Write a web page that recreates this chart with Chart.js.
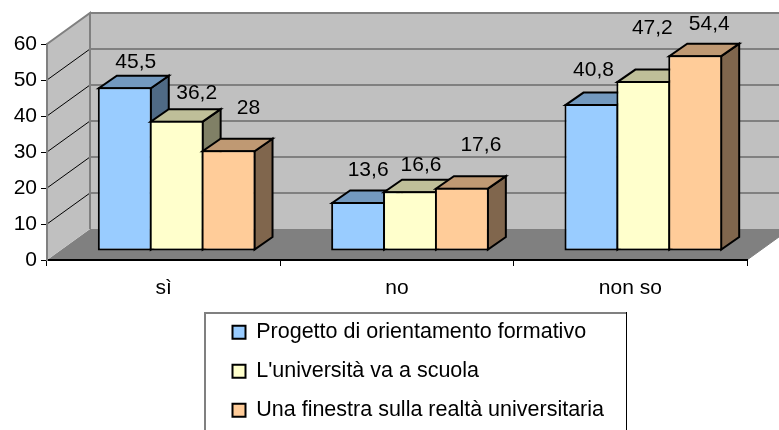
<!DOCTYPE html>
<html><head><meta charset="utf-8">
<style>html,body{margin:0;padding:0;background:#fff}canvas{display:block}</style>
<script src="https://cdn.jsdelivr.net/npm/chart.js@4"></script>
</head><body>
<canvas id="c" width="779" height="430"></canvas>
<script>
const categories = ['sì', 'no', 'non so'];
const seriesNames = ['Progetto di orientamento formativo', "L'università va a scuola", 'Una finestra sulla realtà universitaria'];
const progetto = [45.5, 13.6, 40.8];
const universita = [36.2, 16.6, 47.2];
const finestra = [28, 17.6, 54.4];
const yTicks = [0, 10, 20, 30, 40, 50, 60];

const frontColors = ['#99CCFF', '#FFFFCC', '#FFCC99'];
const topColors = ['#7399BF', '#BFBF99', '#BF9973'];
const sideColors = ['#4F6A85', '#808066', '#80664D'];
const labelOffsets = [
  [[11, -25], [10, -32], [2, -34]],
  [[20, -27], [11, -26], [9, -53]],
  [[20, -42], [19, -42], [14, -31]]
];
const FONT = '"Liberation Sans", Arial, sans-serif';
const FONT_SIZE = 21;
const LEGEND_FONT_SIZE = 21.5;
const WALL = {dx: 43, dy: -31};
const BAR_SHIFT = {dx: 13, dy: -9};
const BAR_DEPTH = {dx: 18, dy: -12.5};

function poly(ctx, pts, fill, stroke, lw) {
  ctx.beginPath();
  pts.forEach((p, i) => i ? ctx.lineTo(p[0], p[1]) : ctx.moveTo(p[0], p[1]));
  ctx.closePath();
  if (fill) { ctx.fillStyle = fill; ctx.fill(); }
  if (stroke) { ctx.strokeStyle = stroke; ctx.lineWidth = lw; ctx.lineJoin = 'miter'; ctx.stroke(); }
}
function seg(ctx, x1, y1, x2, y2, color, lw) {
  ctx.beginPath(); ctx.moveTo(x1, y1); ctx.lineTo(x2, y2);
  ctx.strokeStyle = color; ctx.lineWidth = lw; ctx.stroke();
}

const scene3d = {
  id: 'scene3d',
  beforeLayout(chart) { Chart.layouts.removeBox(chart, chart.legend); },
  afterLayout(chart) {
    const lg = chart.legend;
    lg.update(500, 200, {left: 0, top: 0, right: 0, bottom: 0});
    const w = lg.width, h = lg.height;
    lg.left = 215; lg.top = 304; lg.right = lg.left + w; lg.bottom = lg.top + h;
    lg.width = w; lg.height = h;
  },
  beforeDraw(chart) {
    const {ctx, chartArea: a, scales: {y}} = chart;
    const {dx, dy} = WALL;
    const x0 = a.left, x1 = a.right, yb = a.bottom, yt = a.top;
    ctx.save();
    poly(ctx, [[x0 + dx, yt + dy], [x1 + dx, yt + dy], [x1 + dx, yb + dy], [x0 + dx, yb + dy]], '#C0C0C0');
    poly(ctx, [[x0, yb], [x1, yb], [x1 + dx, yb + dy], [x0 + dx, yb + dy]], '#808080');
    poly(ctx, [[x0, yt], [x0 + dx, yt + dy], [x0 + dx, yb + dy], [x0, yb]], '#C0C0C0');
    yTicks.forEach(v => {
      const p = y.getPixelForValue(v);
      if (v > 0) seg(ctx, x0 + dx, p + dy, x1 + dx, p + dy, '#808080', 2);
      if (v > 0 && v < 60) seg(ctx, x0, p, x0 + dx, p + dy, '#000', 1);
    });
    ctx.beginPath(); ctx.moveTo(x0, yt); ctx.lineTo(x0 + dx, yt + dy); ctx.lineTo(x0 + dx, yb + dy);
    ctx.strokeStyle = '#808080'; ctx.lineWidth = 2; ctx.stroke();
    seg(ctx, x1, yb, x1 + dx, yb + dy, '#808080', 1);
    ctx.restore();
  },
  beforeDatasetsDraw(chart) {
    const ctx = chart.ctx;
    const {dx, dy} = BAR_DEPTH;
    ctx.save();
    ctx.translate(BAR_SHIFT.dx, BAR_SHIFT.dy);
    chart.data.datasets.forEach((ds, di) => {
      chart.getDatasetMeta(di).data.forEach(bar => {
        const l = bar.x - bar.width / 2, r = bar.x + bar.width / 2, t = bar.y + 1, b = bar.base - 1;
        poly(ctx, [[r - 1, t], [r - 1 + dx, t + dy], [r - 1 + dx, b + dy], [r - 1, b]], sideColors[di], '#000', 2);
        poly(ctx, [[l + 1, t], [r - 1, t], [r - 1 + dx, t + dy], [l + 1 + dx, t + dy]], topColors[di], '#000', 2);
        bar.draw(ctx);
      });
    });
    ctx.fillStyle = '#000';
    ctx.font = FONT_SIZE + 'px ' + FONT;
    ctx.textAlign = 'center'; ctx.textBaseline = 'middle';
    chart.data.datasets.forEach((ds, di) => {
      chart.getDatasetMeta(di).data.forEach((bar, i) => {
        const off = labelOffsets[di][i];
        ctx.fillText(String(ds.data[i]).replace('.', ','), bar.x + off[0], bar.y + off[1]);
      });
    });
    ctx.restore();
    return false;
  },
  afterDraw(chart) {
    const ctx = chart.ctx;
    ctx.save();
    seg(ctx, 204, 313, 627, 313, '#808080', 2);
    seg(ctx, 205, 312, 205, 430, '#808080', 2);
    seg(ctx, 626.5, 312, 626.5, 430, '#000', 1);
    ctx.restore();
    chart.legend.draw();
  }
};

new Chart(document.getElementById('c'), {
  type: 'bar',
  data: {
    labels: categories,
    datasets: [progetto, universita, finestra].map((d, i) => ({
      label: seriesNames[i],
      data: d,
      backgroundColor: frontColors[i],
      borderColor: '#000',
      borderWidth: 2,
      borderSkipped: false,
      barPercentage: 1.04,
      categoryPercentage: 0.667
    }))
  },
  plugins: [scene3d],
  options: {
    responsive: false,
    animation: false,
    events: [],
    layout: {padding: {left: 0, top: 44, right: 32, bottom: 0}},
    plugins: {
      tooltip: {enabled: false},
      title: {display: false},
      legend: {
        display: true, position: 'left', align: 'start',
        labels: {boxWidth: 13, boxHeight: 13, padding: 17.5, color: '#000', font: {family: FONT, size: LEGEND_FONT_SIZE}}
      }
    },
    scales: {
      x: {
        afterFit(s) { s.height = 170; },
        grid: {display: true, drawOnChartArea: false, drawTicks: true, tickLength: 6, tickColor: '#000', offset: true},
        border: {display: true, color: '#000', width: 2},
        ticks: {color: '#000', padding: 10, maxRotation: 0, font: {family: FONT, size: FONT_SIZE}}
      },
      y: {
        min: 0, max: 60,
        afterFit(s) { s.width = 47; },
        afterBuildTicks(s) { s.ticks = yTicks.map(v => ({value: v})); },
        grid: {display: true, drawOnChartArea: false, drawTicks: true, tickLength: 6, tickColor: '#000'},
        border: {display: true, color: '#808080', width: 2},
        ticks: {color: '#000', padding: 4, font: {family: FONT, size: FONT_SIZE}}
      }
    }
  }
});
</script>
</body></html>
